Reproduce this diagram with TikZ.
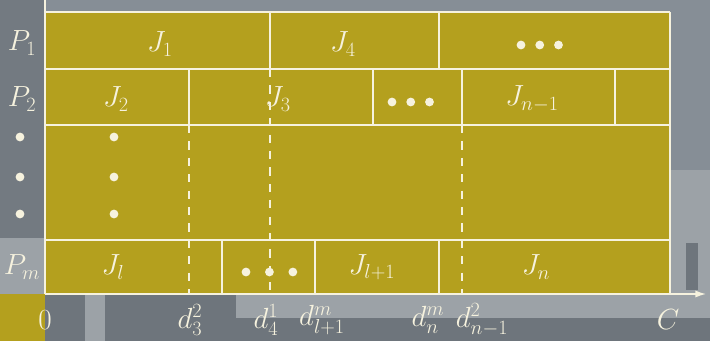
\documentclass[tikz,border=0pt]{standalone}
\usepackage{amssymb,amsmath}
\usepackage{xcolor}
\usepackage{tikz}
\usetikzlibrary{arrows.meta, positioning, calc}

\definecolor{gantt_gold}{RGB}{180,160,30}
\definecolor{bg_mid}{RGB}{134,142,150}
\definecolor{bg_dark}{RGB}{110,117,124}
\definecolor{bg_light}{RGB}{156,162,167}
\definecolor{line_white}{RGB}{246,242,222}

\begin{document}
\begin{tikzpicture}[
    x=0.03cm, y=-0.03cm,
    % Define styles for the labels
    proc_label/.style={text=line_white, font=\fontsize{27}{31}\selectfont, inner sep=0pt},
    job_label/.style={text=line_white, font=\fontsize{24}{28}\selectfont, inner sep=0pt},
    time_label/.style={text=line_white, font=\fontsize{23}{27}\selectfont, inner sep=0pt},
    dot_node/.style={circle, fill=line_white, inner sep=0pt, minimum size=7.5pt},
    % Styles for lines
    grid_line/.style={line_white, line width=1.6pt},
    due_line/.style={line_white, line width=1.6pt, dash pattern=on 7pt off 7pt},
    axis/.style={-{Latex[length=9pt,width=6pt]}, line_white, line width=1.2pt}
]
    \useasboundingbox (0,0) rectangle (710,341);

    % =========================================================================
    % BACKGROUND PATCHES
    % =========================================================================
    \fill[bg_mid] (0,0) rectangle (710,341);
    \fill[bg_dark!80!bg_mid] (0,0) rectangle (45,238);
    \fill[bg_light] (0,238) rectangle (45,294);
    \fill[gantt_gold] (0,294) rectangle (45,341);
    \fill[bg_dark] (45,294) rectangle (710,341);
    \fill[bg_light] (85,294) rectangle (105,341);
    \fill[bg_light] (236,294) rectangle (710,318);
    \fill[bg_light] (670,170) rectangle (710,294);
    \fill[bg_dark] (686,243) rectangle (698,290);

    % =========================================================================
    % SCHEDULE AREA
    % =========================================================================
    \fill[gantt_gold] (45,12) rectangle (670,294);

    % Row borders
    \foreach \yy in {12,69,125,240}
        \draw[grid_line] (45,\yy) -- (670,\yy);
    \draw[grid_line] (670,12) -- (670,294);

    % Job boundaries of P_1
    \draw[grid_line] (270,12) -- (270,69);
    \draw[grid_line] (439,12) -- (439,69);
    % Job boundaries of P_2
    \foreach \xx in {189,373,462,615}
        \draw[grid_line] (\xx,69) -- (\xx,125);
    % Job boundaries of P_m
    \foreach \xx in {222,315,439}
        \draw[grid_line] (\xx,240) -- (\xx,294);

    % Due dates (dashed)
    \draw[due_line] (189,125) -- (189,294);
    \draw[due_line] (270,69) -- (270,294);
    \draw[due_line] (462,125) -- (462,294);

    % =========================================================================
    % AXES
    % =========================================================================
    \coordinate (origin) at (45,294);
    \coordinate (x_end) at (706,294);
    \coordinate (y_end) at (45,0);
    \draw[axis] (origin) -- (x_end);
    \draw[line_white, line width=1.2pt] (origin) -- (y_end);

    % =========================================================================
    % PROCESSOR LABELS
    % =========================================================================
    \node (p_one) [proc_label] at (22,43) {$P_1$};
    \node (p_two) [proc_label] at (22,99) {$P_2$};
    \node (p_dot_a) [dot_node] at (20,137) {};
    \node (p_dot_b) [dot_node] at (20,177) {};
    \node (p_dot_c) [dot_node] at (20,214) {};
    \node (p_m) [proc_label] at (22,267) {$P_m$};

    % =========================================================================
    % JOB LABELS
    % =========================================================================
    \node (j_one) [job_label] at (160,44) {$J_1$};
    \node (j_four) [job_label] at (343,44) {$J_4$};
    \node (r1_dot_a) [dot_node] at (521,45) {};
    \node (r1_dot_b) [dot_node, right=16pt of r1_dot_a.center, anchor=center] {};
    \node (r1_dot_c) [dot_node, right=16pt of r1_dot_b.center, anchor=center] {};

    \node (j_two) [job_label] at (116,99) {$J_2$};
    \node (j_three) [job_label] at (278,99) {$J_3$};
    \node (r2_dot_a) [dot_node] at (392,102) {};
    \node (r2_dot_b) [dot_node, right=16pt of r2_dot_a.center, anchor=center] {};
    \node (r2_dot_c) [dot_node, right=16pt of r2_dot_b.center, anchor=center] {};
    \node (j_nm1) [job_label] at (532,99) {$J_{n-1}$};

    \node (c_dot_a) [dot_node] at (114,137) {};
    \node (c_dot_b) [dot_node] at (114,177) {};
    \node (c_dot_c) [dot_node] at (114,214) {};

    \node (j_l) [job_label] at (113,267) {$J_l$};
    \node (rm_dot_a) [dot_node] at (246,272) {};
    \node (rm_dot_b) [dot_node, right=20pt of rm_dot_a.center, anchor=center] {};
    \node (rm_dot_c) [dot_node, right=20pt of rm_dot_b.center, anchor=center] {};
    \node (j_lp1) [job_label] at (372,267) {$J_{l+1}$};
    \node (j_n) [job_label] at (536,267) {$J_n$};

    % =========================================================================
    % TIME LABELS
    % =========================================================================
    \node (t_zero) [time_label] at (45,320) {$0$};
    \node (t_d32) [time_label] at (190,320) {$d_3^2$};
    \node (t_d41) [time_label] at (266,320) {$d_4^1$};
    \node (t_dl1m) [time_label] at (322,320) {$d_{l+1}^m$};
    \node (t_dnm) [time_label] at (428,320) {$d_n^m$};
    \node (t_dn12) [time_label] at (482,320) {$d_{n-1}^2$};
    \node (t_c) [time_label] at (668,320) {$C$};

\end{tikzpicture}
\end{document}
